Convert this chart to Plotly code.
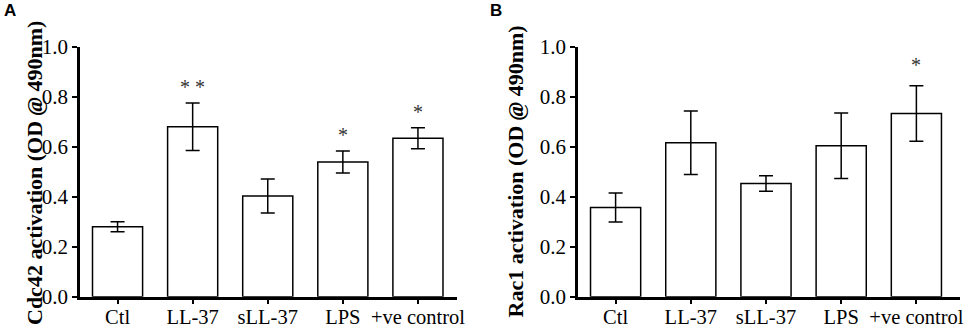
import plotly.graph_objects as go

categories = ["Ctl", "LL-37", "sLL-37", "LPS", "+ve control"]
cdc42_mean = [0.28, 0.68, 0.403, 0.539, 0.634]
cdc42_err = [0.02, 0.095, 0.068, 0.044, 0.042]
cdc42_sig = ["", "* *", "", "*", "*"]
rac1_mean = [0.357, 0.616, 0.453, 0.604, 0.733]
rac1_err = [0.058, 0.127, 0.031, 0.131, 0.111]
rac1_sig = ["", "", "", "", "*"]
y_ticks = [0.0, 0.2, 0.4, 0.6, 0.8, 1.0]

SERIF = "Liberation Serif, Times New Roman, serif"
fig = go.Figure()

def add_panel(mean, err, xa, ya):
    fig.add_trace(go.Bar(
        x=categories, y=mean, xaxis=xa, yaxis=ya, width=0.667,
        marker=dict(color="white", line=dict(color="black", width=1.5)),
        error_y=dict(type="data", array=err, visible=True, color="black",
                     thickness=1.5, width=7),
        showlegend=False, cliponaxis=False,
    ))

add_panel(cdc42_mean, cdc42_err, "x", "y")
add_panel(rac1_mean, rac1_err, "x2", "y2")

annotations = []
for sig, m, e, cat in zip(cdc42_sig, cdc42_mean, cdc42_err, categories):
    if sig:
        annotations.append(dict(x=cat, y=m + e + 0.07, xref="x", yref="y", text=sig,
                                showarrow=False, yshift=-2,
                                font=dict(family=SERIF, size=20, color="#333")))
for sig, m, e, cat in zip(rac1_sig, rac1_mean, rac1_err, categories):
    if sig:
        annotations.append(dict(x=cat, y=m + e + 0.09, xref="x2", yref="y2", text=sig,
                                showarrow=False, yshift=-2,
                                font=dict(family=SERIF, size=20, color="#333")))

annotations += [
    dict(x=19.5/965, y=1 - 173/327, xref="paper", yref="paper", showarrow=False, textangle=-90,
         text="<b>Cdc42 activation (OD <i>@</i> 490nm)</b>",
         font=dict(family=SERIF, size=22, color="black")),
    dict(x=515/965, y=1 - 171.5/327, xref="paper", yref="paper", showarrow=False, textangle=-90,
         text="<b>Rac1 activation (OD <i>@</i> 490nm)</b>",
         font=dict(family=SERIF, size=22, color="black")),
    dict(x=2/965, y=1 - 11/327, xref="paper", yref="paper", showarrow=False,
         xanchor="left", yanchor="middle", text="<b>A</b>",
         font=dict(family="Liberation Sans, Arial, sans-serif", size=17, color="black")),
    dict(x=488/965, y=1 - 11/327, xref="paper", yref="paper", showarrow=False,
         xanchor="left", yanchor="middle", text="<b>B</b>",
         font=dict(family="Liberation Sans, Arial, sans-serif", size=17, color="black")),
]

xcommon = dict(showline=True, linecolor="black", linewidth=2.5, ticks="outside",
               ticklen=5, tickwidth=2, tickcolor="black", showgrid=False,
               zeroline=False, tickfont=dict(family=SERIF, size=20.5, color="black"),
               type="category", fixedrange=True, automargin=False,
               ticklabelstandoff=-5)
ycommon = dict(showline=True, linecolor="black", linewidth=2.5, ticks="outside",
               ticklen=5, tickwidth=2, tickcolor="black", showgrid=False,
               zeroline=False, range=[0, 1.0], tickvals=y_ticks,
               ticktext=[f"{v:.1f}" for v in y_ticks],
               tickfont=dict(family=SERIF, size=21, color="black"), fixedrange=True,
               automargin=False)

ydom = [1 - 296.7/327, 1 - 46.7/327]
fig.update_layout(
    width=965, height=327, margin=dict(l=0, r=0, t=0, b=0, pad=0, autoexpand=False),
    paper_bgcolor="white", plot_bgcolor="white",
    xaxis=dict(domain=[80/965, 457/965], anchor="y", range=[-0.5, 4.52], **xcommon),
    yaxis=dict(domain=ydom, anchor="x", **ycommon),
    xaxis2=dict(domain=[578/965, 960/965], anchor="y2", range=[-0.5, 4.58], **xcommon),
    yaxis2=dict(domain=ydom, anchor="x2", **ycommon),
    annotations=annotations,
    bargap=0.333,
)

fig.write_html("out.html", config={"displayModeBar": False},
               post_script="document.body.style.margin='0';document.body.style.overflow='hidden';")
